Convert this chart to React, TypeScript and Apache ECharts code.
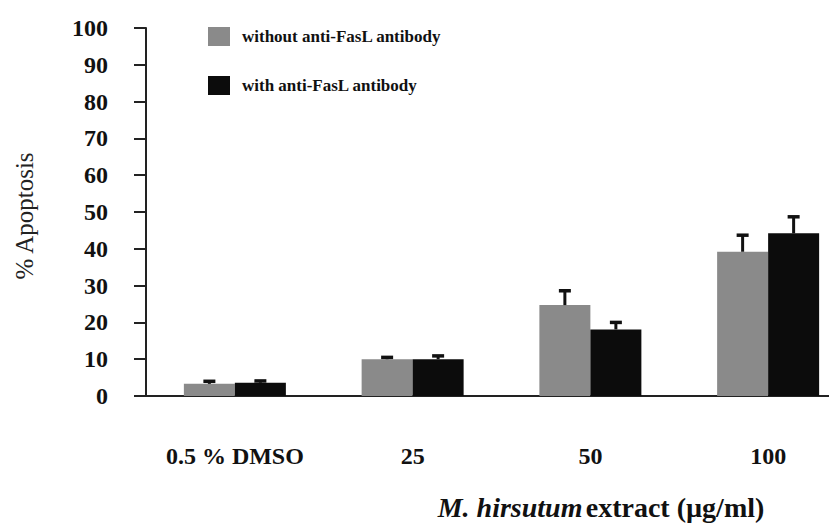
import React, { useEffect, useRef } from "react";
import * as echarts from "echarts";

const categories = ["0.5 % DMSO", "25", "50", "100"];
const seriesNames = ["without anti-FasL antibody", "with anti-FasL antibody"];
const withoutValues = [3.3, 10.0, 24.7, 39.2];
const withoutErrors = [0.9, 0.7, 4.1, 4.7];
const withValues = [3.6, 10.0, 18.1, 44.2];
const withErrors = [0.7, 1.1, 2.1, 4.7];
const yTicks = { min: 0, max: 100, interval: 10 };

const FONT = '"Liberation Serif", "DejaVu Serif", serif';
const GRAY = "#8a8a8a";
const BLACK = "#0c0c0c";
const BAR_W = 51;

function errorSeries(values: number[], errors: number[], offset: number) {
  return {
    type: "custom",
    silent: true,
    z: 5,
    data: values.map((v, i) => [i, v, errors[i]]),
    encode: { x: 0, y: 1 },
    renderItem: (params: any, api: any) => {
      const idx = api.value(0);
      const mean = api.value(1);
      const err = api.value(2);
      const base = api.coord([idx, mean]);
      const top = api.coord([idx, mean + err]);
      const x = base[0] + offset;
      return {
        type: "group",
        children: [
          {
            type: "line",
            shape: { x1: x, y1: base[1], x2: x, y2: top[1] },
            style: { stroke: "#111", lineWidth: 3 },
          },
          {
            type: "rect",
            shape: { x: x - 6, y: top[1] - 1, width: 12, height: 3.5 },
            style: { fill: "#111" },
          },
        ],
      };
    },
  };
}

export default function App() {
  const ref = useRef<HTMLDivElement>(null);
  useEffect(() => {
    if (!ref.current) return;
    const chart = echarts.init(ref.current, null, { renderer: "svg" });
    chart.setOption({
      animation: false,
      backgroundColor: "#ffffff",
      grid: {
        left: 146,
        width: 711,
        top: 28,
        bottom: 133,
        containLabel: false,
        outerBoundsMode: "none",
      },
      legend: {
        data: seriesNames,
        orient: "vertical",
        left: 208,
        top: 27,
        padding: 0,
        itemWidth: 22,
        itemHeight: 19,
        itemGap: 30,
        icon: "rect",
        textStyle: {
          fontFamily: FONT,
          fontWeight: "bold",
          fontSize: 17,
          color: "#111",
          padding: [0, 0, 0, 7],
        },
      },
      graphic: [
        {
          type: "text",
          x: 24,
          y: 216,
          rotation: Math.PI / 2,
          style: {
            text: "% Apoptosis",
            fontFamily: FONT,
            fontSize: 25,
            fill: "#222",
            align: "center",
            verticalAlign: "middle",
          },
        },
        {
          type: "text",
          x: 601,
          y: 507,
          style: {
            text: "{i|M. hirsutum} {b|extract (µg/ml)}",
            align: "center",
            verticalAlign: "middle",
            rich: {
              i: { fontFamily: FONT, fontWeight: "bold", fontStyle: "italic", fontSize: 28, fill: "#111" },
              b: { fontFamily: FONT, fontWeight: "bold", fontSize: 28, fill: "#111" },
            },
          },
        },
      ],
      xAxis: {
        type: "category",
        data: categories,
        axisLine: { show: true, lineStyle: { color: "#222", width: 2 } },
        axisTick: { show: false },
        axisLabel: {
          interval: 0,
          margin: 48,
          fontFamily: FONT,
          fontWeight: "bold",
          fontSize: 24,
          color: "#111",
        },
        splitLine: { show: false },
      },
      yAxis: {
        type: "value",
        min: yTicks.min,
        max: yTicks.max,
        interval: yTicks.interval,
        axisLine: { show: true, lineStyle: { color: "#222", width: 2 } },
        axisTick: { show: true, inside: false, length: 12, lineStyle: { color: "#222", width: 2 } },
        axisLabel: {
          margin: 38,
          fontFamily: FONT,
          fontWeight: "bold",
          fontSize: 24,
          color: "#111",
        },
        splitLine: { show: false },
      },
      series: [
        {
          name: seriesNames[0],
          type: "bar",
          data: withoutValues,
          barWidth: BAR_W,
          barGap: "0%",
          itemStyle: { color: GRAY },
        },
        {
          name: seriesNames[1],
          type: "bar",
          data: withValues,
          barWidth: BAR_W,
          barGap: "0%",
          itemStyle: { color: BLACK },
        },
        errorSeries(withoutValues, withoutErrors, -BAR_W / 2),
        errorSeries(withValues, withErrors, BAR_W / 2),
      ],
    });
    return () => chart.dispose();
  }, []);
  return (
    <div
      ref={ref}
      style={{ position: "absolute", left: 0, top: 0, width: 829, height: 529, overflow: "hidden" }}
    />
  );
}
